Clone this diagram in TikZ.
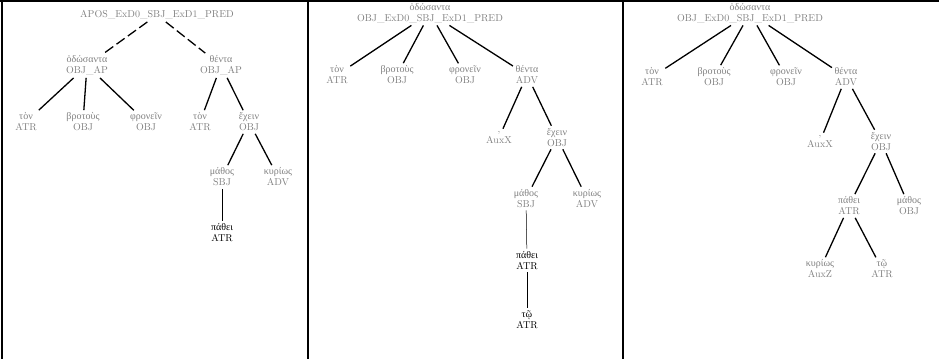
\documentclass[tikz,border=0pt]{standalone}
\usepackage{fontspec}
\newfontfamily\grfont{Liberation Serif}
\newcommand\gk[1]{{\grfont #1}}
\begin{document}
\begin{tikzpicture}[x=1pt,y=-1pt,
  tok/.style={align=center,inner sep=2.5pt,text=black!50,
    font=\fontsize{10}{11}\selectfont},
  tokdark/.style={tok,text=black},
  dep/.style={line width=1.3pt},
  depthin/.style={line width=0.5pt},
  depdash/.style={line width=1.3pt,dash pattern=on 10pt off 4pt},
  frame/.style={line width=1.6pt}]
\useasboundingbox (0,0) rectangle (939,359);
% table frame and column rules
\draw[frame] (0,1) -- (939,1);
\draw[frame] (2,0) -- (2,359);
\draw[frame] (308,0) -- (308,359);
\draw[frame] (623,0) -- (623,359);

% ---- first column ----
\node[tok] (a1r) at (157,15) {APOS\_ExD0\_SBJ\_ExD1\_PRED};
\node[tok] (a1o) at (87,65.5) {\gk{ὁδώσαντα}\\OBJ\_AP};
\node[tok] (a1t) at (221,65.5) {\gk{θέντα}\\OBJ\_AP};
\node[tok] (a1a) at (26,122) {\gk{τὸν}\\ATR};
\node[tok] (a1b) at (83,122) {\gk{βροτοὺς}\\OBJ};
\node[tok] (a1c) at (146,122) {\gk{φρονεῖν}\\OBJ};
\node[tok] (a1d) at (200,122) {\gk{τὸν}\\ATR};
\node[tok] (a1e) at (249,122) {\gk{ἔχειν}\\OBJ};
\node[tok] (a1f) at (222,177) {\gk{μάθος}\\SBJ};
\node[tok] (a1g) at (278,177) {\gk{κυρίως}\\ADV};
\node[tokdark] (a1h) at (222,233) {\gk{πάθει}\\ATR};
\draw[depdash] (a1r) -- (a1o);
\draw[depdash] (a1r) -- (a1t);
\draw[dep] (a1o) -- (a1a);
\draw[dep] (a1o) -- (a1b);
\draw[dep] (a1o) -- (a1c);
\draw[dep] (a1t) -- (a1d);
\draw[dep] (a1t) -- (a1e);
\draw[dep] (a1e) -- (a1f);
\draw[dep] (a1e) -- (a1g);
\draw[depthin] (a1f) -- (a1h);

% ---- second column ----
\node[tok] (b2r) at (430,13) {\gk{ὁδώσαντα}\\OBJ\_ExD0\_SBJ\_ExD1\_PRED};
\node[tok] (b2a) at (337,75) {\gk{τὸν}\\ATR};
\node[tok] (b2b) at (397,75) {\gk{βροτοὺς}\\OBJ};
\node[tok] (b2c) at (465,75) {\gk{φρονεῖν}\\OBJ};
\node[tok] (b2d) at (527,75) {\gk{θέντα}\\ADV};
\node[tok] (b2e) at (499,137.5) {,\\AuxX};
\node[tok] (b2f) at (557,137.5) {\gk{ἔχειν}\\OBJ};
\node[tok] (b2g) at (526,198.5) {\gk{μάθος}\\SBJ};
\node[tok] (b2h) at (587,198.5) {\gk{κυρίως}\\ADV};
\node[tokdark] (b2i) at (527,260.5) {\gk{πάθει}\\ATR};
\node[tokdark] (b2j) at (527,320) {\gk{τῷ}\\ATR};
\draw[dep] (b2r) -- (b2a);
\draw[dep] (b2r) -- (b2b);
\draw[dep] (b2r) -- (b2c);
\draw[dep] (b2r) -- (b2d);
\draw[dep] (b2d) -- (b2e);
\draw[dep] (b2d) -- (b2f);
\draw[dep] (b2f) -- (b2g);
\draw[dep] (b2f) -- (b2h);
\draw[depthin] (b2g) -- (b2i);
\draw[depthin] (b2i) -- (b2j);

% ---- third column ----
\node[tok] (c3r) at (750,13) {\gk{ὁδώσαντα}\\OBJ\_ExD0\_SBJ\_ExD1\_PRED};
\node[tok] (c3a) at (652,77) {\gk{τὸν}\\ATR};
\node[tok] (c3b) at (714,77) {\gk{βροτοὺς}\\OBJ};
\node[tok] (c3c) at (786,77) {\gk{φρονεῖν}\\OBJ};
\node[tok] (c3d) at (846,77) {\gk{θέντα}\\ADV};
\node[tok] (c3e) at (820,141.5) {,\\AuxX};
\node[tok] (c3f) at (881,141.5) {\gk{ἔχειν}\\OBJ};
\node[tok] (c3g) at (849,206) {\gk{πάθει}\\ATR};
\node[tok] (c3h) at (909,206) {\gk{μάθος}\\OBJ};
\node[tok] (c3i) at (820,269) {\gk{κυρίως}\\AuxZ};
\node[tok] (c3j) at (882,269) {\gk{τῷ}\\ATR};
\draw[dep] (c3r) -- (c3a);
\draw[dep] (c3r) -- (c3b);
\draw[dep] (c3r) -- (c3c);
\draw[dep] (c3r) -- (c3d);
\draw[dep] (c3d) -- (c3e);
\draw[dep] (c3d) -- (c3f);
\draw[dep] (c3f) -- (c3g);
\draw[dep] (c3f) -- (c3h);
\draw[dep] (c3g) -- (c3i);
\draw[dep] (c3g) -- (c3j);
\end{tikzpicture}
\end{document}
